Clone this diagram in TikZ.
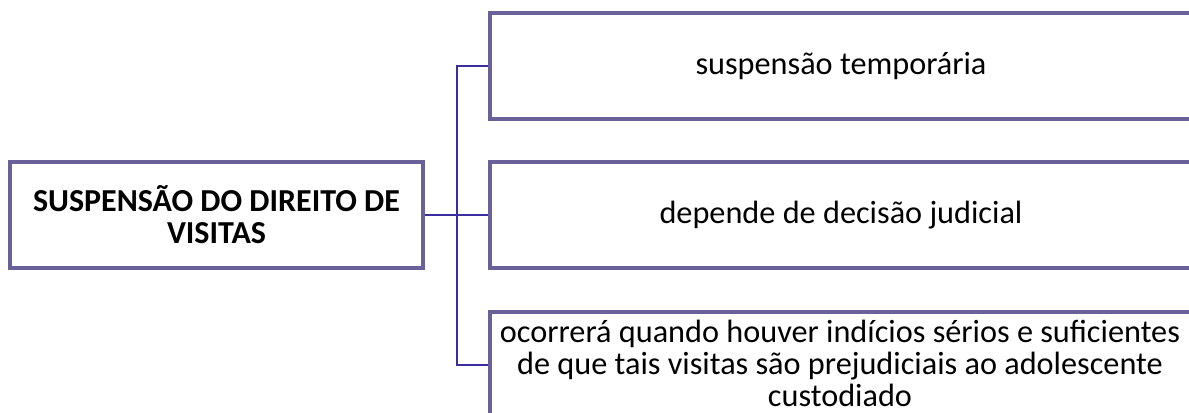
\documentclass[tikz,border=0pt]{standalone}
\usepackage{fontspec}
\setmainfont{Carlito}
\definecolor{boxline}{HTML}{6B6199}
\definecolor{conn}{HTML}{3B2FA0}
\tikzset{
  box/.style={draw=boxline, line width=2.3pt, fill=white, rectangle, inner sep=0pt},
  txt/.style={align=center, font=\fontsize{24.2pt}{24pt}\selectfont, inner sep=0pt},
  link/.style={draw=conn, line width=1.6pt},
}
\begin{document}
\begin{tikzpicture}[x=0.75pt,y=-0.75pt]
\useasboundingbox (0,0) rectangle (1189,413);
\clip (0,0) rectangle (1189,413);
\fill[white] (0,0) rectangle (1189,413);
% left box
\node[box, minimum width=413*0.75pt, minimum height=106*0.75pt] (main) at (216.5,215) {};
\node[txt, font=\fontsize{24pt}{24pt}\selectfont\bfseries] (mainT) at (main.center) {SUSPENSÃO DO DIREITO DE\\VISITAS};
% right boxes
\node[box, minimum width=702*0.75pt, minimum height=106*0.75pt] (b1) at (841,66) {};
\node[txt] (t1) at (b1.center) {suspensão temporária};
\node[box, minimum width=702*0.75pt, minimum height=106*0.75pt] (b2) at (841,215) {};
\node[txt] (t2) at (b2.center) {depende de decisão judicial};
\node[box, minimum width=702*0.75pt, minimum height=106*0.75pt] (b3) at (841,365) {};
\node[txt] (t3) at (840,363) {ocorrerá quando houver indícios sérios e suficientes\\de que tais visitas são prejudiciais ao adolescente\\custodiado};
% connectors
\coordinate (j) at (457,215);
\draw[link] (main.east) -- (j);
\draw[link] (j) -- (b2.west);
\draw[link] (b1.west) -| (457,215) |- (b3.west);
\end{tikzpicture}
\end{document}
